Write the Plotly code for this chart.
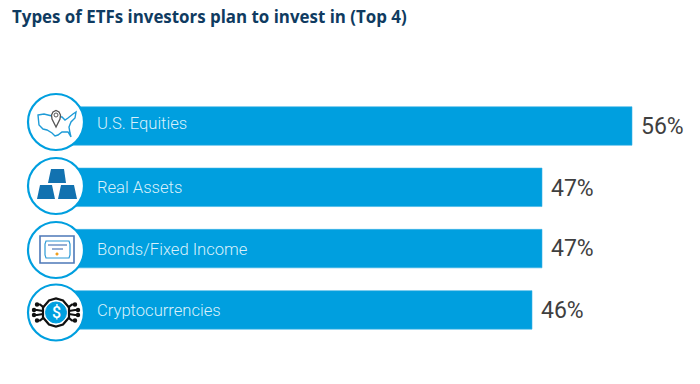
import plotly.graph_objects as go

# Data
categories = ["U.S. Equities", "Real Assets", "Bonds/Fixed Income", "Cryptocurrencies"]
values = [56, 47, 47, 46]
title = "Types of ETFs investors plan to invest in (Top 4)"

BLUE = "#009FDF"
W, H = 700, 384
label_shift = [3, 0, -0.5, -1]
value_shift = [0, -1, 0, -1]
STEP = 61.3


def px(x):
    return x / W


def py(y):
    return 1 - y / H


def pth(points, close=True):
    s = "M" + " L".join(f"{px(a):.5f},{py(b):.5f}" for a, b in points)
    return s + (" Z" if close else "")


def circle(cx, cy, r, fill="rgba(0,0,0,0)", line=BLUE, width=2.0):
    return dict(type="circle", xref="paper", yref="paper", x0=px(cx - r), x1=px(cx + r),
                y0=py(cy + r), y1=py(cy - r), fillcolor=fill, line=dict(color=line, width=width), layer="above")


def poly(points, fill="rgba(0,0,0,0)", line="rgba(0,0,0,0)", width=1.0, close=True):
    return dict(type="path", xref="paper", yref="paper", path=pth(points, close), fillcolor=fill,
                line=dict(color=line, width=width), layer="above")


fig = go.Figure(go.Bar(
    x=values, y=categories, orientation="h", width=38.5 / STEP,
    marker=dict(color=BLUE, line=dict(color="#3DB2E6", width=0.6)),
    hoverinfo="skip",
))

shapes = []
centers = [122, 186, 250, 312.5]
for c in centers:
    shapes.append(circle(56, c, 28, fill="white", width=2.2))

# U.S. map icon
usa = [(38, 115), (44, 114), (52, 116), (62, 117), (65, 120), (68, 118), (73, 114), (76, 112), (75, 118),
       (71, 122), (69, 127), (70, 133), (71, 137), (68, 132), (62, 132), (58, 135), (55, 136), (52, 133),
       (47, 130), (43, 129), (39, 125)]
shapes.append(poly(usa, line="#1E9BD7", width=1.4))
pin = [(56, 127), (52, 119), (51.5, 115), (53, 112), (56, 110.5), (59, 112), (60.5, 115), (60, 119)]
shapes.append(poly(pin, fill="white", line="#555555", width=1.3))
shapes.append(circle(56, 115, 2, fill="white", line="#555555", width=1))

# Gold bars icon
GOLD = "#1272B0"
shapes.append(poly([(51, 169), (64, 169), (66, 183), (48, 183)], fill=GOLD))
shapes.append(poly([(40, 185), (52, 185), (55, 199), (37, 199)], fill=GOLD))
shapes.append(poly([(61, 185), (74, 185), (77, 199), (58, 199)], fill=GOLD))

# Certificate icon
CERT = "#4D78B8"
shapes.append(dict(type="rect", xref="paper", yref="paper", x0=px(40), x1=px(74), y0=py(263), y1=py(236),
                   fillcolor="white", line=dict(color=CERT, width=1.6), layer="above"))
shapes.append(poly([(46, 241), (69, 241), (70, 244), (70, 255), (69, 258), (46, 258), (45, 255), (45, 244)],
                   line="#2C9AD6", width=1.2))
shapes.append(poly([(48, 245), (67, 245)], line=CERT, width=1.2, close=False))
shapes.append(poly([(52, 249), (63, 249)], line=CERT, width=1.2, close=False))
shapes.append(circle(57, 254, 1.3, fill="#F0A020", line="#F0A020", width=0.5))

# Crypto icon
c = centers[3]
shapes.append(poly([(43, c - 5), (49, c - 12), (56, c - 14), (63, c - 12), (69, c - 5), (69, c + 5),
                    (63, c + 12), (56, c + 14), (49, c + 12), (43, c + 5)],
                   fill="white", line="#111111", width=2.2))
for sx in (-1, 1):
    for a, b, d in [(12, 19, -8), (13, 22, -2.5), (13, 22, 2.5), (12, 19, 8)]:
        shapes.append(poly([(56 + sx * a, c + d * 0.6), (56 + sx * (b - 3), c + d), (56 + sx * b, c + d)],
                           line="#111111", width=2.2, close=False))
        shapes.append(circle(56 + sx * b, c + d, 1.5, fill="#111111", line="#111111", width=1.4))
shapes.append(circle(56, c, 10.5, fill=BLUE, line=BLUE, width=1))

annotations = [
    dict(xref="x", yref="y", x=2.3, y=cat, text=cat, showarrow=False, xanchor="left",
         yshift=s, font=dict(family="Roboto", size=16.6, color="#D8F0FB", weight=300))
    for cat, s in zip(categories, label_shift)
]
annotations += [
    dict(xref="x", yref="y", x=v, y=cat, text=f"{v}%", showarrow=False, xanchor="left", xshift=7,
         yshift=s, font=dict(family="Roboto", size=23, color="#3F3F3F", weight=400))
    for cat, v, s in zip(categories, values, value_shift)
]
annotations.append(dict(xref="paper", yref="paper", x=px(56), y=py(c), text="$", showarrow=False,
                        xanchor="center", yanchor="middle",
                        font=dict(family="Roboto", size=16, color="white", weight=500)))

fig.update_layout(
    width=W, height=H, autosize=False,
    margin=dict(l=0, r=0, t=0, b=0),
    paper_bgcolor="white", plot_bgcolor="white", showlegend=False,
    title=dict(text=title, x=12 / W, xanchor="left", y=1 - 17 / H, yanchor="middle",
               font=dict(family="Open Sans", size=16.9, color="#0F3B61", weight=700)),
    xaxis=dict(range=[-7.2, 62.8], visible=False),
    yaxis=dict(type="category", categoryorder="array", categoryarray=categories,
               range=[(384 - 126) / STEP, -126 / STEP], visible=False),
    shapes=shapes, annotations=annotations,
)
fig.write_html("out.html", config=dict(displayModeBar=False),
               post_script="document.body.style.margin='0';document.body.style.overflow='hidden';")
